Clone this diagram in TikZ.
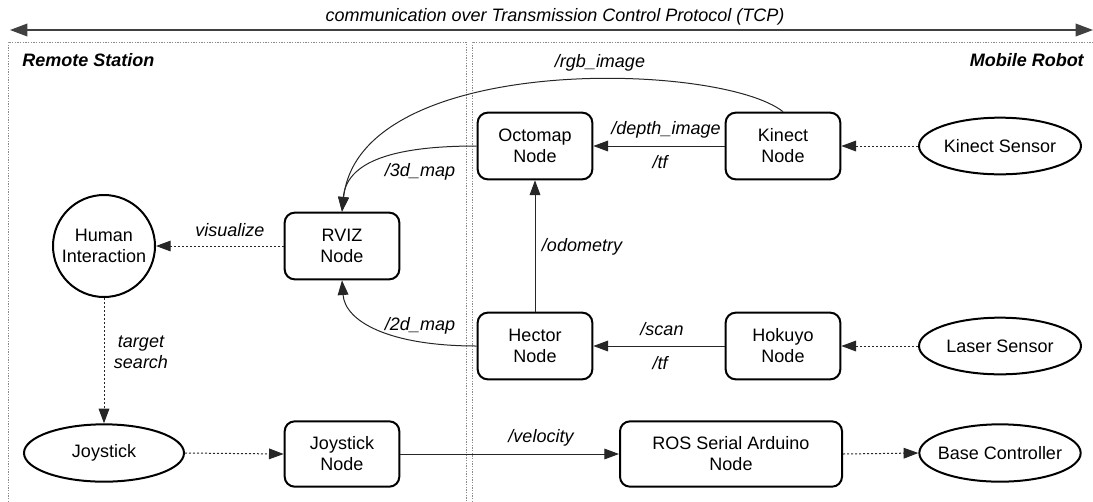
\documentclass[tikz,border=0pt]{standalone}
\usepackage{fontspec}
\setmainfont{Liberation Sans}
\usetikzlibrary{arrows.meta,shapes.geometric}
\newcommand\fsz{\fontsize{13.5}{15.75}\selectfont}
\newcommand\zbox[1]{\makebox[0pt]{#1}}
\begin{document}
\begin{tikzpicture}[x=0.75pt,y=-0.75pt,
  every node/.style={font=\fsz},
  box/.style={draw, line width=1.5pt, rounded corners=7.5pt, minimum width=86pt, minimum height=50pt, align=center, inner sep=0pt},
  ell/.style={draw, ellipse, line width=1.5pt, minimum width=121.5pt, minimum height=42.5pt, inner sep=0pt},
  circ/.style={draw, circle, line width=1.5pt, minimum size=76.5pt, inner sep=0pt, align=center},
  conn/.style={line width=0.75pt, draw=black!85, -{Triangle[length=11pt,width=8pt]}},
  dconn/.style={conn, dash pattern=on 1.5pt off 1.5pt},
  lbl/.style={font=\fsz\itshape, inner sep=0pt},
  ttl/.style={font=\fsz\bfseries\itshape, inner sep=0pt},
  frame/.style={draw=black!45, line width=0.75pt, dash pattern=on 1pt off 1pt}
]
\useasboundingbox (0,0) rectangle (1093,501);

% frames
\draw[frame] (8,510) -- (8,42) -- (466,42) -- (466,510);
\draw[frame] (472,510) -- (472,42) -- (1100,42);

% top arrow
\coordinate (tl) at (10,30);
\coordinate (tr) at (1093,30);
\draw[line width=1pt, draw=black!75, {Triangle[length=13pt,width=9.5pt]}-{Triangle[length=13pt,width=9.5pt]}] (tl) -- (tr);
\node[lbl] (tcp) at (555,17) {communication over Transmission Control Protocol (TCP)};

\node[ttl, anchor=west] (rs) at (22,60) {Remote Station};
\node[ttl, anchor=east] (mr) at (1084,60) {Mobile Robot};

% nodes
\node[circ] (hum) at (104,246) {Human\\Interaction};
\node[box] (rviz) at (342,246) {RVIZ\\Node};
\node[box] (oct) at (535,146) {Octomap\\Node};
\node[box] (kin) at (783,146) {Kinect\\Node};
\node[ell] (ks) at (1000,146) {\zbox{Kinect Sensor}};
\node[box] (hec) at (535,346) {Hector\\Node};
\node[box] (hok) at (783,346) {Hokuyo\\Node};
\node[ell] (ls) at (1000,346) {\zbox{Laser Sensor}};
\node[ell, minimum width=120pt, minimum height=43pt] (joy) at (104,453) {\zbox{Joystick}};
\node[box, minimum height=49pt] (joyn) at (342,454) {Joystick\\Node};
\node[box, minimum width=166.5pt, minimum height=49pt] (ros) at (731,454) {ROS Serial Arduino\\Node};
\node[ell, minimum width=121pt, minimum height=43pt] (base) at (1000,453) {\zbox{Base Controller}};

% connectors
\draw[conn] (kin.north) .. controls +(-63,-50) and +(18,-160) .. (rviz.north);
\draw[conn] (oct.west) .. controls +(-70,0) and +(5,-55) .. (rviz.north);
\draw[conn] (hec.west) .. controls +(-88,0) and +(3,41) .. (rviz.south);
\draw[conn] (kin.west) -- (oct.east);
\draw[dconn] (ks.west) -- (kin.east);
\draw[conn] (hec.north) -- (oct.south);
\draw[conn] (hok.west) -- (hec.east);
\draw[dconn] (ls.west) -- (hok.east);
\draw[dconn] (rviz.west) -- (hum.east);
\draw[dconn] (hum.south) -- (joy.north);
\draw[dconn] (joy.east) -- (joyn.west);
\draw[conn] (joyn.east) -- (ros.west);
\draw[dconn] (ros.east) -- (base.west);

% labels
\node[lbl] (l1) at (600,63) {/rgb\_image};
\node[lbl] (l2) at (666,130) {/depth\_image};
\node[lbl] (l3) at (660,162) {/tf};
\node[lbl] (l4) at (420,172) {/3d\_map};
\node[lbl] (l5) at (230,230) {visualize};
\node[lbl] (l6) at (582,247) {/odometry};
\node[lbl] (l7) at (420,326) {/2d\_map};
\node[lbl] (l8) at (662,329) {/scan};
\node[lbl] (l9) at (660,363) {/tf};
\node[lbl, align=center] (l10) at (141,352) {target\\search};
\node[lbl] (l11) at (541,438) {/velocity};
\end{tikzpicture}
\end{document}
